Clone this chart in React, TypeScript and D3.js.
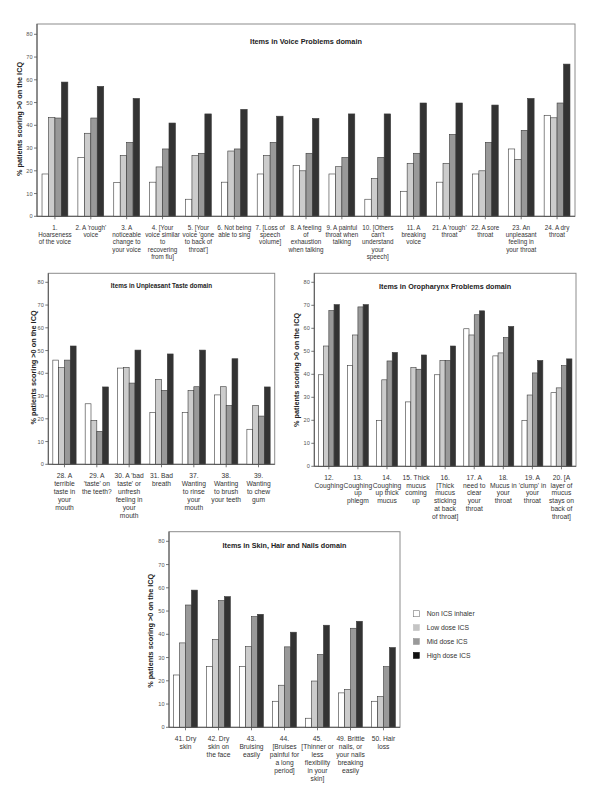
import React from "react";
import * as d3 from "d3";

const seriesNames = ["Non ICS inhaler", "Low dose ICS", "Mid dose ICS", "High dose ICS"];
const seriesColors = ["#ffffff", "#cccccc", "#999999", "#333333"];
const legendColors = ["#ffffff", "#c4c4c4", "#999999", "#111111"];
const yTicks = [0, 10, 20, 30, 40, 50, 60, 70, 80];

// Voice Problems domain
const voiceLabels = [
  ["1.", "Hoarseness", "of the voice"],
  ["2. A 'rough'", "voice"],
  ["3. A", "noticeable", "change to", "your voice"],
  ["4. [Your", "voice similar", "to", "recovering", "from flu]"],
  ["5. [Your", "voice 'gone", "to back of", "throat']"],
  ["6. Not being", "able to sing"],
  ["7. [Loss of", "speech", "volume]"],
  ["8. A feeling", "of", "exhaustion", "when talking"],
  ["9. A painful", "throat when", "talking"],
  ["10. [Others", "can't", "understand", "your", "speech]"],
  ["11. A", "breaking", "voice"],
  ["21. A 'rough'", "throat"],
  ["22. A sore", "throat"],
  ["23. An", "unpleasant", "feeling in", "your throat"],
  ["24. A dry", "throat"],
];
const voiceNon = [18.6, 25.9, 14.9, 15, 7.5, 15, 18.6, 22.3, 18.6, 7.5, 11, 15, 18.6, 29.6, 44.4];
const voiceLow = [43.5, 36.5, 26.8, 21.7, 26.8, 28.7, 26.8, 20, 21.8, 16.7, 23.3, 23.3, 20, 25, 43.3];
const voiceMid = [43.2, 43.2, 32.5, 29.6, 27.7, 29.6, 32.5, 27.7, 25.9, 25.9, 27.7, 36, 32.5, 37.8, 49.8];
const voiceHigh = [59, 57.1, 51.8, 41, 45, 47, 44, 43, 45, 45, 49.8, 49.8, 48.9, 51.8, 66.9];

// Unpleasant Taste domain
const tasteLabels = [
  ["28. A", "terrible", "taste in", "your", "mouth"],
  ["29. A", "'taste' on", "the teeth?"],
  ["30. A 'bad", "taste' or", "unfresh", "feeling in", "your", "mouth"],
  ["31. Bad", "breath"],
  ["37.", "Wanting", "to rinse", "your", "mouth"],
  ["38.", "Wanting", "to brush", "your teeth"],
  ["39.", "Wanting", "to chew", "gum"],
];
const tasteNon = [45.8, 26.6, 42.3, 22.8, 22.8, 30.5, 15.4];
const tasteLow = [42.5, 19.3, 42.6, 37.3, 32.5, 34.1, 25.9];
const tasteMid = [45.8, 14.5, 35.7, 32.5, 34.1, 25.9, 21.2];
const tasteHigh = [52, 34, 50.2, 48.5, 50.2, 46.4, 34];

// Oropharynx Problems domain
const oroLabels = [
  ["12.", "Coughing"],
  ["13.", "Coughing", "up", "phlegm"],
  ["14.", "Coughing", "up thick", "mucus"],
  ["15. Thick", "mucus", "coming", "up"],
  ["16.", "[Thick", "mucus", "sticking", "at back", "of throat]"],
  ["17. A", "need to", "clear", "your", "throat"],
  ["18.", "Mucus in", "your", "throat"],
  ["19. A", "'clump' in", "your", "throat"],
  ["20. [A", "layer of", "mucus", "stays on", "back of", "throat]"],
];
const oroNon = [39.8, 43.8, 20, 28, 39.8, 59.8, 48, 20, 32];
const oroLow = [52.3, 57.1, 37.6, 42.9, 46, 57.1, 49.3, 31, 34.1];
const oroMid = [67.7, 69.3, 45.8, 42.2, 46, 65.9, 56, 40.6, 43.8];
const oroHigh = [70.3, 70.3, 49.5, 48.4, 52.3, 67.6, 60.8, 46, 46.7];

// Skin, Hair and Nails domain
const skinLabels = [
  ["41. Dry", "skin"],
  ["42. Dry", "skin on", "the face"],
  ["43.", "Bruising", "easily"],
  ["44.", "[Bruises", "painful for", "a long", "period]"],
  ["45.", "[Thinner or", "less", "flexibility", "in your", "skin]"],
  ["49. Brittle", "nails, or", "your nails", "breaking", "easily"],
  ["50. Hair", "loss"],
];
const skinNon = [22.5, 26.2, 26.2, 11.2, 3.9, 14.8, 11.2];
const skinLow = [36.3, 37.7, 34.7, 18.1, 19.9, 16.3, 13.2];
const skinMid = [52.6, 54.5, 47.6, 34.6, 31.3, 42.6, 26.1];
const skinHigh = [59, 56.2, 48.6, 40.9, 43.9, 45.6, 34.3];

const FONT = "'Liberation Sans', Arial, Helvetica, sans-serif";
const yLabelText = "% patients scoring >0 on the ICQ";

type PanelProps = {
  x0: number; x1: number; top: number; yZero: number; yMax: number;
  labels: string[][]; series: number[][]; title: string; titleSize: number; titleY: number;
  labelSize: number; lineH: number; yLabelX: number; yLabelY: number;
};

function Panel(p: PanelProps) {
  const cats = p.labels.map((_, i) => String(i));
  const x = d3.scaleBand().domain(cats).range([p.x0, p.x1]).paddingInner(0.28).paddingOuter(0.14);
  const inner = d3.scaleBand().domain(["0", "1", "2", "3"]).range([0, x.bandwidth()]);
  const y = d3.scaleLinear().domain([0, 80]).range([p.yZero, p.yMax]);
  return (
    <g fontFamily={FONT}>
      <rect x={p.x0} y={p.top} width={p.x1 - p.x0} height={p.yZero - p.top} fill="none" stroke="#8c8c8c" strokeWidth={1} />
      {cats.map((c, i) => (
        <g key={c}>
          {p.series.map((s, k) => (
            <rect key={k} x={(x(c) as number) + (inner(String(k)) as number)} y={y(s[i])}
              width={inner.bandwidth()} height={p.yZero - y(s[i])}
              fill={seriesColors[k]} stroke="#3a3a3a" strokeWidth={0.6} />
          ))}
          <line x1={(x(c) as number) + x.bandwidth() / 2} x2={(x(c) as number) + x.bandwidth() / 2}
            y1={p.yZero} y2={p.yZero + 3} stroke="#555" strokeWidth={0.8} />
          <text x={(x(c) as number) + x.bandwidth() / 2} y={p.yZero + 13.4} fontSize={p.labelSize}
            textAnchor="middle" fill="#333">
            {p.labels[i].map((ln, j) => (
              <tspan key={j} x={(x(c) as number) + x.bandwidth() / 2} dy={j === 0 ? 0 : p.lineH}>{ln}</tspan>
            ))}
          </text>
        </g>
      ))}
      <line x1={p.x0} x2={p.x0} y1={p.top} y2={p.yZero} stroke="#555" strokeWidth={1} />
      <line x1={p.x0} x2={p.x1} y1={p.yZero} y2={p.yZero} stroke="#555" strokeWidth={1} />
      {yTicks.map((t) => (
        <g key={t}>
          <line x1={p.x0 - 3} x2={p.x0} y1={y(t)} y2={y(t)} stroke="#555" strokeWidth={0.8} />
          <text x={p.x0 - 4.5} y={y(t)} dy="0.35em" fontSize={5.6} textAnchor="end" fill="#555">{t}</text>
        </g>
      ))}
      <text x={(p.x0 + p.x1) / 2} y={p.titleY} fontSize={p.titleSize} fontWeight="bold" textAnchor="middle" fill="#222">{p.title}</text>
      <text transform={`translate(${p.yLabelX},${p.yLabelY}) rotate(-90)`} dy="0.35em" fontSize={7.3}
        fontWeight="bold" textAnchor="middle" fill="#222">{yLabelText}</text>
    </g>
  );
}

export default function App() {
  return (
    <svg width={600} height={800} style={{ position: "absolute", left: 0, top: 0, background: "#fff" }}>
      <rect x={0} y={0} width={600} height={800} fill="#fff" />
      <Panel x0={37} x1={575} top={24} yZero={216.3} yMax={34.3} labels={voiceLabels}
        series={[voiceNon, voiceLow, voiceMid, voiceHigh]} title="Items in Voice Problems domain"
        titleSize={7.3} titleY={44.3} labelSize={6.3} lineH={7.3} yLabelX={19.5} yLabelY={119} />
      <Panel x0={48.3} x1={274.7} top={273.3} yZero={464.3} yMax={282.3} labels={tasteLabels}
        series={[tasteNon, tasteLow, tasteMid, tasteHigh]} title="Items in Unpleasant Taste domain"
        titleSize={6.3} titleY={288.2} labelSize={6.7} lineH={8} yLabelX={33.3} yLabelY={367.5} />
      <Panel x0={314.3} x1={576} top={273.3} yZero={466.3} yMax={282.3} labels={oroLabels}
        series={[oroNon, oroLow, oroMid, oroHigh]} title="Items in Oropharynx Problems domain"
        titleSize={7.2} titleY={288.5} labelSize={6.7} lineH={7.8} yLabelX={296} yLabelY={370} />
      <Panel x0={169} x1={400} top={531.7} yZero={727.3} yMax={541.3} labels={skinLabels}
        series={[skinNon, skinLow, skinMid, skinHigh]} title="Items in Skin, Hair and Nails domain"
        titleSize={7.2} titleY={548.2} labelSize={6.7} lineH={8.1} yLabelX={150} yLabelY={630.8} />
      <g fontFamily={FONT}>
        {seriesNames.map((n, i) => (
          <g key={n}>
            <rect x={413.3} y={610.7 + i * 13.9} width={6} height={6} fill={legendColors[i]}
              stroke={i === 0 ? "#777" : legendColors[i]} strokeWidth={0.6} />
            <text x={426.7} y={613.7 + i * 13.9} dy="0.35em" fontSize={6.8} fill="#333">{n}</text>
          </g>
        ))}
      </g>
    </svg>
  );
}
